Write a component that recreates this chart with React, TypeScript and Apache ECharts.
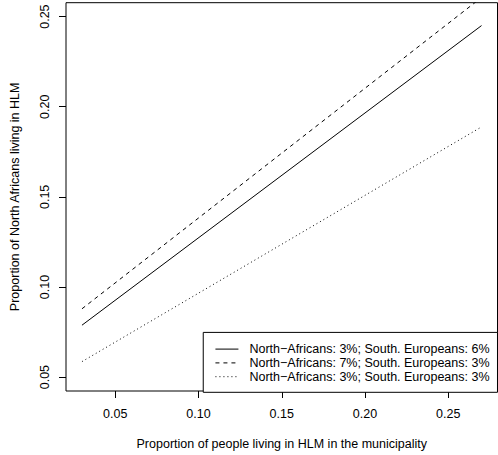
import React, { useEffect, useRef } from "react";
import * as echarts from "echarts";

const xValues = [0.03, 0.27];
const seriesNames = [
  "North−Africans: 3%; South. Europeans: 6%",
  "North−Africans: 7%; South. Europeans: 3%",
  "North−Africans: 3%; South. Europeans: 3%",
];
const solidValues = [0.0788, 0.245];
const dashedValues = [0.0879, 0.2606];
const dottedValues = [0.0586, 0.1888];
const xTicks = [0.05, 0.1, 0.15, 0.2, 0.25];
const yTicks = [0.05, 0.1, 0.15, 0.2, 0.25];

const FONT = "Liberation Sans, Arial, Helvetica, sans-serif";
const FS = 12.5;

export default function App() {
  const ref = useRef<HTMLDivElement>(null);
  useEffect(() => {
    document.body.style.margin = "0";
    if (!ref.current) return;
    const chart = echarts.init(ref.current, null, { renderer: "svg" });
    const mk = (vals: number[]) => xValues.map((x, i) => [x, vals[i]]);
    const lineTypes: any[] = ["solid", [4, 4], [1, 3]];
    const datas = [solidValues, dashedValues, dottedValues];
    chart.setOption({
      animation: false,
      textStyle: { fontFamily: FONT },
      grid: {
        left: 62.7,
        top: 2.7,
        right: 0.5,
        bottom: 62.7,
        show: true,
        borderColor: "#000",
        borderWidth: 1,
        backgroundColor: "transparent",
      },
      xAxis: {
        type: "value",
        min: 0.0204,
        max: 0.2796,
        name: "Proportion of people living in HLM in the municipality",
        nameLocation: "middle",
        nameGap: 46,
        nameTextStyle: { fontSize: FS, color: "#000", fontFamily: FONT },
        axisLine: { show: false },
        splitLine: { show: false },
        axisTick: {
          show: true,
          length: 7,
          inside: false,
          customValues: xTicks,
          lineStyle: { color: "#000", width: 1 },
        },
        axisLabel: {
          customValues: xTicks,
          formatter: (v: number) => v.toFixed(2),
          fontSize: FS,
          color: "#000",
          margin: 16,
          fontFamily: FONT,
        },
      },
      yAxis: {
        type: "value",
        min: 0.0423,
        max: 0.2577,
        name: "Proportion of North Africans living in HLM",
        nameLocation: "middle",
        nameGap: 45,
        nameTextStyle: { fontSize: FS, color: "#000", fontFamily: FONT },
        axisLine: { show: false },
        splitLine: { show: false },
        axisTick: {
          show: true,
          length: 7,
          inside: false,
          customValues: yTicks,
          lineStyle: { color: "#000", width: 1 },
        },
        axisLabel: {
          customValues: yTicks,
          formatter: (v: number) => v.toFixed(2),
          fontSize: FS,
          color: "#000",
          margin: 15,
          rotate: 90,
          fontFamily: FONT,
        },
      },
      legend: {
        orient: "vertical",
        right: 0.5,
        bottom: 62.7,
        backgroundColor: "#fff",
        borderColor: "#000",
        borderWidth: 1,
        padding: [9.8, 8, 8.7, 11.7],
        itemGap: 0,
        itemWidth: 23,
        itemHeight: 13.8,
        selectedMode: false,
        itemStyle: { opacity: 0 },
        lineStyle: { width: 1, color: "#000" },
        textStyle: {
          fontSize: FS,
          lineHeight: 13.8,
          color: "#000",
          fontFamily: FONT,
          padding: [0, 0, 0, 6],
        },
        data: seriesNames,
      },
      series: datas.map((d, i) => ({
        name: seriesNames[i],
        type: "line",
        data: mk(d),
        symbol: "none",
        showSymbol: false,
        clip: true,
        lineStyle: { color: "#000", width: 1, type: lineTypes[i] },
        itemStyle: { color: "#000" },
        emphasis: { disabled: true },
      })),
    });
    return () => chart.dispose();
  }, []);
  return <div ref={ref} style={{ width: 498, height: 455 }} />;
}
